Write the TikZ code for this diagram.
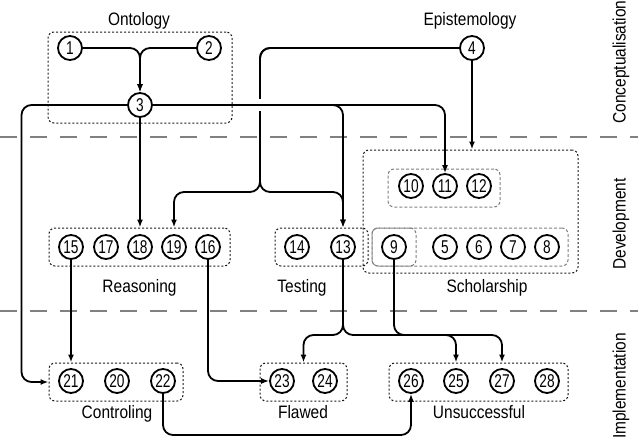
\documentclass[tikz,border=0pt]{standalone}
\usepackage{fontspec}
\setmainfont{Liberation Sans}[FakeStretch=0.86]
\newfontfamily\numfont{Liberation Sans}[FakeStretch=0.74]
\usetikzlibrary{arrows.meta,calc}
\begin{document}
\begin{tikzpicture}[x=1pt,y=-1pt,
  num/.style={circle,draw,line width=1.8pt,minimum size=24pt,inner sep=0pt,font=\numfont\fontsize{18.5}{18.5}\selectfont},
  lbl/.style={anchor=base,inner sep=0pt,font=\fontsize{18}{18}\selectfont},
  side/.style={rotate=90,inner sep=0pt,font=\fontsize{18}{18}\selectfont},
  grp/.style={draw=black!90,line width=1pt,dash pattern=on 2pt off 2pt,rounded corners=6pt,inner sep=0pt},
  sub/.style={draw=black!50,line width=1pt,dash pattern=on 3pt off 2pt,rounded corners=6pt,inner sep=0pt},
  conn/.style={line width=1.8pt,rounded corners=10pt,-{Latex[length=8pt,width=6pt]}},
  gapline/.style={draw=white,line width=6pt},
  divider/.style={draw=black!50,line width=2pt,dash pattern=on 17pt off 13pt}]
\useasboundingbox (0,0) rectangle (638,439);
% dividers
\coordinate (d1a) at (0,137); \coordinate (d1b) at (638,137);
\coordinate (d2a) at (0,311); \coordinate (d2b) at (638,311);
\draw[divider] (d1a) -- (d1b);
\draw[divider] (d2a) -- (d2b);
% side labels
\node[side] (sc) at (621,62) {Conceptualisation};
\node[side] (sd) at (621,224) {Development};
\node[side] (si) at (621,386) {Implementation};
% group boxes
\node[grp,minimum width=184pt,minimum height=91pt] (onto) at (140,77.5) {};
\node[grp,minimum width=181pt,minimum height=38pt] (reas) at (139.5,247) {};
\node[grp,minimum width=93pt,minimum height=38pt] (test) at (321.5,247) {};
\node[grp,minimum width=215pt,minimum height=123pt] (schol) at (470.5,211.5) {};
\node[sub,minimum width=112pt,minimum height=38pt] (inner) at (444,188) {};
\node[sub,minimum width=196pt,minimum height=38pt] (b58) at (470,247) {};
\node[sub,minimum width=44pt,minimum height=38pt] (b9) at (394,247) {};
\node[grp,minimum width=134pt,minimum height=38pt] (ctrl) at (116,382) {};
\node[grp,minimum width=87pt,minimum height=38pt] (flaw) at (303.5,382) {};
\node[grp,minimum width=179pt,minimum height=38pt] (unsu) at (478.5,382) {};
% labels
\node[lbl] (lonto) at (139,26) {Ontology};
\node[lbl] (lepis) at (470,26) {Epistemology};
\node[lbl] (lreas) at (139.5,292) {Reasoning};
\node[lbl] (ltest) at (302,292) {Testing};
\node[lbl] (lschol) at (487,292) {Scholarship};
\node[lbl] (lctrl) at (117,418) {Controling};
\node[lbl] (lflaw) at (303,418) {Flawed};
\node[lbl] (lunsu) at (479,418) {Unsuccessful};
% nodes
\node[num] (n1) at (70,48) {1};
\node[num] (n2) at (209,48) {2};
\node[num] (n3) at (140,105) {3};
\node[num] (n4) at (472,48) {4};
\node[num] (n10) at (411,186) {10};
\node[num] (n11) at (445,186) {11};
\node[num] (n12) at (479,186) {12};
\node[num] (n15) at (71,247) {15};
\node[num] (n17) at (106,247) {17};
\node[num] (n18) at (140,247) {18};
\node[num] (n19) at (174,247) {19};
\node[num] (n16) at (208,247) {16};
\node[num] (n14) at (297,247) {14};
\node[num] (n13) at (343,247) {13};
\node[num] (n9) at (394,247) {9};
\node[num] (n5) at (445,247) {5};
\node[num] (n6) at (479,247) {6};
\node[num] (n7) at (513,247) {7};
\node[num] (n8) at (547,247) {8};
\node[num] (n21) at (71,381) {21};
\node[num] (n20) at (117,381) {20};
\node[num] (n22) at (163,381) {22};
\node[num] (n23) at (282,381) {23};
\node[num] (n24) at (325,381) {24};
\node[num] (n26) at (411,381) {26};
\node[num] (n25) at (456,381) {25};
\node[num] (n27) at (502,381) {27};
\node[num] (n28) at (547,381) {28};
% junctions
\coordinate (j4) at (260,192);
\coordinate (jx) at (260,105);
\coordinate (j13) at (343,335);
\coordinate (j9) at (394,335);
\coordinate (j22) at (163,435);
% connectors from 4 (drawn first, then gapped where 3's line crosses)
\draw[conn] (n4.west) -| (j4) -| (n19 |- reas.north);
\draw[conn] (n4.west) -| (j4) -| (n13 |- test.north);
\draw[conn] (n4.south) -- (n4.south |- schol.north);
\draw[gapline] ($(jx)+(0,-6)$) -- ($(jx)+(0,6)$);
% other connectors
\draw[conn] (n1.east) -| (n3.north);
\draw[conn] (n2.west) -| (n3.north);
\draw[conn] (n3.south) -- (n3.south |- reas.north);
\draw[conn] (n3.west) -| ($(ctrl.west)+(-27,0)$) -- (ctrl.west);
\draw[conn] (n3.east) -| (n11.north);
\draw[conn] (n3.east) -| (n13 |- test.north);
\draw[conn] (n15.south) -- (n15 |- ctrl.north);
\draw[conn] (n16.south) |- (n23.west);
\draw[conn] (n13.south) -- (j13) -| (flaw.north);
\draw[conn] (n13.south) -- (j13) -| (n25 |- unsu.north);
\draw[conn] (n9.south) -- (j9) -| (n27 |- unsu.north);
\draw[conn] (n22.south) -- (j22) -| (n26.south);
\end{tikzpicture}
\end{document}
